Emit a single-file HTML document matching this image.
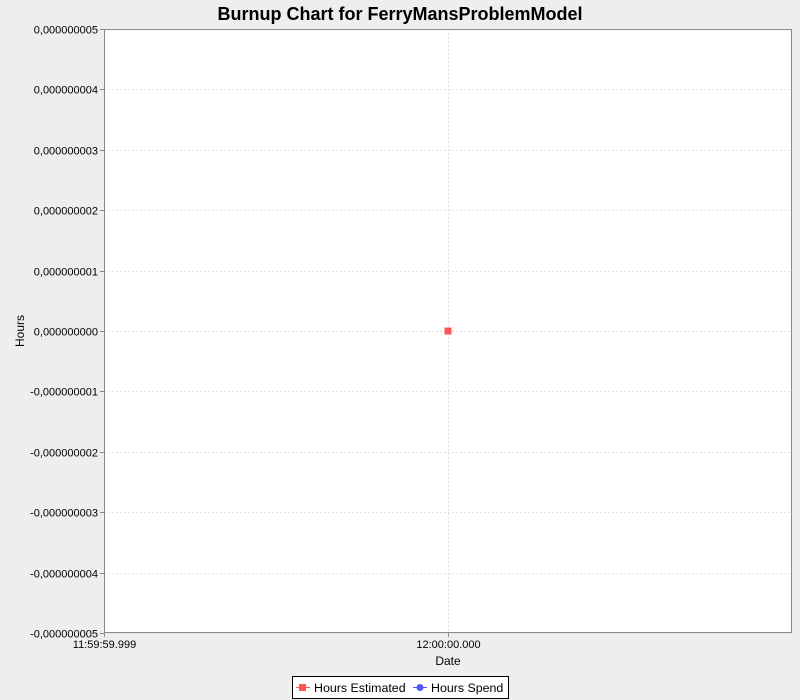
<!DOCTYPE html>
<html><head><meta charset="utf-8"><style>
body{margin:0;background:#eeeeee;font-family:"Liberation Sans",sans-serif;}
svg{display:block}
</style></head><body>
<svg id="c" width="800" height="700" xmlns="http://www.w3.org/2000/svg">
<rect width="800" height="700" fill="#eeeeee"/>
<text x="400" y="20" text-anchor="middle" font-size="18" font-weight="bold" fill="#000">Burnup Chart for FerryMansProblemModel</text>
<rect x="104" y="29" width="688" height="604" fill="#fff"/>
<g id="grid"></g>
<rect x="104.5" y="29.5" width="687" height="603" fill="none" stroke="#888"/>
<g id="yaxis"></g><g id="xaxis"></g><g id="marks"></g>
<text x="24" y="331" text-anchor="middle" font-size="12" transform="rotate(-90 24 331)">Hours</text>
<text x="448" y="665" text-anchor="middle" font-size="12">Date</text>
<g>
<rect x="292.5" y="676.5" width="216" height="22" fill="#fff" stroke="#000"/>
<g>
<line x1="296" y1="687.5" x2="310" y2="687.5" stroke="#ff5555"/>
<rect x="299" y="684" width="7" height="7" fill="#ff5555"/>
<text x="314" y="692" font-size="12.4">Hours Estimated</text></g>
<g>
<line x1="413" y1="687.5" x2="427" y2="687.5" stroke="#5555ff"/>
<circle cx="420" cy="687.5" r="3.5" fill="#5555ff"/>
<text x="431" y="692" font-size="12.4">Hours Spend</text></g>
</g>
</svg>
<script>
const yTicks=[5,4,3,2,1,0,-1,-2,-3,-4,-5];
const yLabels=["0,000000005","0,000000004","0,000000003","0,000000002","0,000000001","0,000000000","-0,000000001","-0,000000002","-0,000000003","-0,000000004","-0,000000005"];
const xTicks=[-1,0];
const xLabels=["11:59:59.999","12:00:00.000"];
const estX=[0];
const estY=[0];
const spendX=[];
const spendY=[];
const NS="http://www.w3.org/2000/svg";
const X0=104,X1=792,Y0=29,Y1=633;
const sx=v=>X0+(v+1)/2*(X1-X0);
const sy=v=>Y1-(v+5)/10*(Y1-Y0);
function mk(t,a,p){const e=document.createElementNS(NS,t);for(const k in a)e.setAttribute(k,a[k]);p.appendChild(e);return e;}
const g=document.getElementById('grid'),ya=document.getElementById('yaxis'),xa=document.getElementById('xaxis'),m=document.getElementById('marks');
yTicks.forEach((v,i)=>{const y=Math.round(sy(v))+0.5;
 const l=mk('line',{x1:X0,x2:X1,y1:y,y2:y,stroke:'#e2e2e2','stroke-dasharray':'2,2'},g);
 
 
 mk('line',{x1:X0-4,x2:X0,y1:y,y2:y,stroke:'#888'},ya);
 const t=mk('text',{x:X0-6,y:y+4,'text-anchor':'end','font-size':'11'},ya);t.textContent=yLabels[i];
 
 });
xTicks.forEach((v,i)=>{const x=Math.round(sx(v))+0.5;
 const l=mk('line',{x1:x,x2:x,y1:Y0,y2:Y1,stroke:'#e2e2e2','stroke-dasharray':'2,2'},g);
 
 
 mk('line',{x1:x,x2:x,y1:Y1,y2:Y1+4,stroke:'#888'},xa);
 const t=mk('text',{x:x,y:Y1+15,'text-anchor':'middle','font-size':'11'},xa);t.textContent=xLabels[i];
 
 });
estX.forEach((v,i)=>{const r=mk('rect',{x:sx(v)-3.5,y:sy(estY[i])-3.5,width:7,height:7,fill:'#ff5555'},m);
 
 });
spendX.forEach((v,i)=>{const c=mk('circle',{cx:sx(v),cy:sy(spendY[i]),r:3.5,fill:'#5555ff'},m);
 
 });
</script>
</body></html>
